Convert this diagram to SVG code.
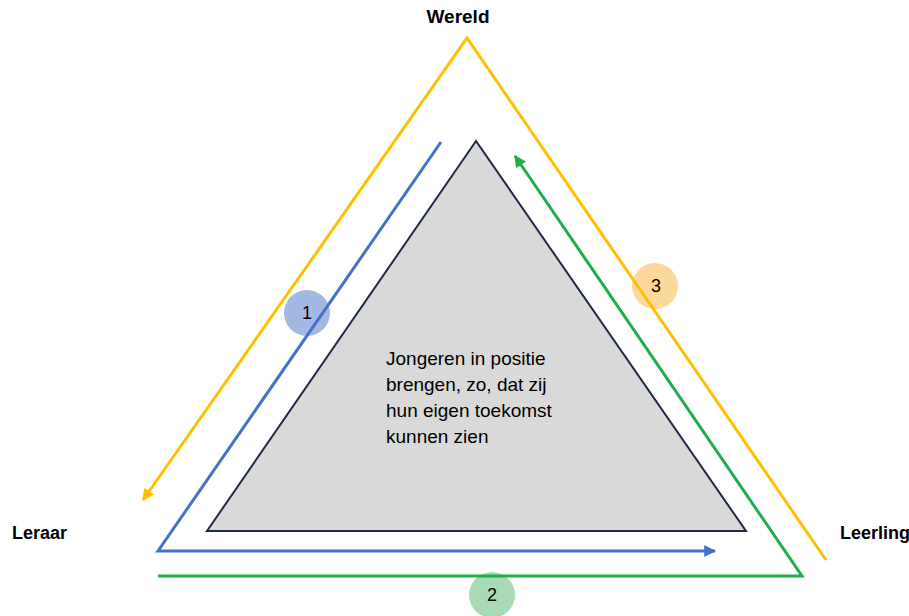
<svg xmlns="http://www.w3.org/2000/svg" width="909" height="616" viewBox="0 0 909 616">
<defs>
<style>
.lbl{font-family:"Liberation Sans",Arial,sans-serif;font-weight:bold;font-size:18px;fill:#000}
.body{font-family:"Liberation Sans",Arial,sans-serif;font-size:19px;fill:#000}
.num{font-family:"Liberation Sans",Arial,sans-serif;font-size:18px;fill:#000;text-anchor:middle}
.ln{fill:none;stroke-width:3;stroke-linejoin:miter}
</style>
<marker id="aY" viewBox="0 0 10 10" refX="9" refY="5" markerWidth="4" markerHeight="4" orient="auto" markerUnits="strokeWidth"><path d="M0,0L10,5L0,10z" fill="#ffc000"/></marker>
<marker id="aB" viewBox="0 0 10 10" refX="9" refY="5" markerWidth="4" markerHeight="4" orient="auto" markerUnits="strokeWidth"><path d="M0,0L10,5L0,10z" fill="#4472c4"/></marker>
<marker id="aG" viewBox="0 0 10 10" refX="9" refY="5" markerWidth="4" markerHeight="4" orient="auto" markerUnits="strokeWidth"><path d="M0,0L10,5L0,10z" fill="#1fae4b"/></marker>
</defs>
<rect width="909" height="616" fill="#fff"/>
<g id="center">
<polygon points="476,141 207,531 746,531" fill="#d9d9d9" stroke="#1f2a44" stroke-width="2"/>
<text class="body" x="386" y="365">Jongeren in positie</text>
<text class="body" x="386" y="391">brengen, zo, dat zij</text>
<text class="body" x="386" y="417">hun eigen toekomst</text>
<text class="body" x="386" y="443">kunnen zien</text>
</g>
<g id="badge1"><circle cx="307" cy="313" r="23" fill="#a4b8e4"/><text class="num" x="307" y="319">1</text></g>
<g id="badge2"><circle cx="492" cy="595" r="23" fill="#a8dbb3"/><text class="num" x="492" y="601">2</text></g>
<g id="badge3"><circle cx="655" cy="286" r="23" fill="#fdd89c"/><text class="num" x="656" y="292">3</text></g>
<g id="connectors">
<polyline class="ln" points="826,560 467,38 143,500" stroke="#ffc000" marker-end="url(#aY)"/>
<polyline class="ln" points="441,142 158,551 715,551" stroke="#4472c4" marker-end="url(#aB)"/>
<polyline class="ln" points="158,576 802,576 515,156" stroke="#1fae4b" marker-end="url(#aG)"/>
</g>
<g id="wereld"><text class="lbl" x="458" y="23" text-anchor="middle" style="font-size:19px">Wereld</text></g>
<g id="leraar"><text class="lbl" x="12" y="539">Leraar</text></g>
<g id="leerling"><text class="lbl" x="840" y="539">Leerling</text></g>
</svg>
